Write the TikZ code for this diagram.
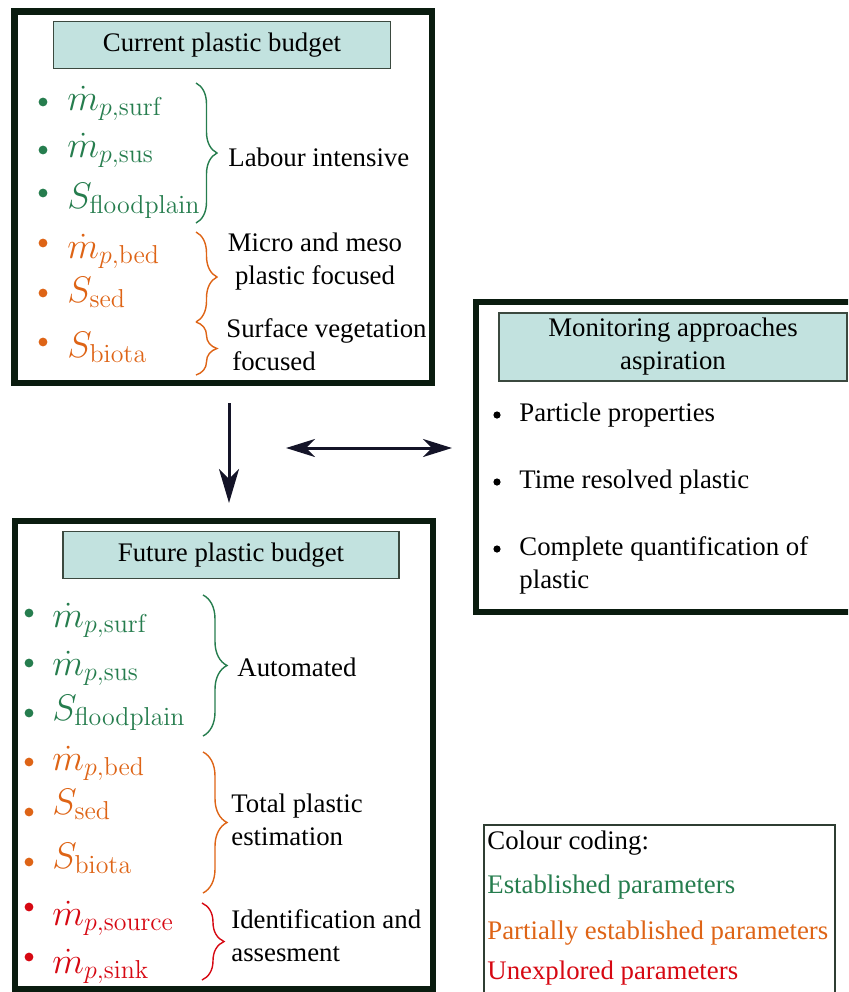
\documentclass[tikz,border=0pt]{standalone}
\usepackage{fix-cm}
\usepackage[no-math]{fontspec}
\setmainfont{Liberation Serif}
\usetikzlibrary{arrows.meta,decorations.pathreplacing}
\definecolor{framecol}{RGB}{10,28,15}
\definecolor{titlefill}{RGB}{194,226,223}
\definecolor{estab}{RGB}{38,125,78}
\definecolor{partial}{RGB}{222,100,22}
\definecolor{unexpl}{RGB}{214,8,18}
\definecolor{arrowcol}{RGB}{20,20,40}
\newcommand\txt{\fontsize{13.4}{16.5}\selectfont}
\newcommand\mth{\fontsize{18.5}{22}\selectfont}
\tikzset{
  budget/.style={draw=framecol,line width=3.4pt},
  titlebox/.style={draw=framecol!80,fill=titlefill,line width=0.6pt,font=\txt,inner sep=0pt,align=center},
  param/.style={text=#1,anchor=base west,inner sep=0pt,font=\mth},
  desc/.style={font=\txt,inner sep=0pt,anchor=west},
  curly/.style={draw=#1,line width=0.7pt,decorate},
}
\begin{document}
\begin{tikzpicture}[x=0.5pt,y=-0.5pt]
  \useasboundingbox (0,0) rectangle (848,992);
  \clip (0,0) rectangle (848,992);

  % current plastic budget
  \draw[budget] (14.5,11.5) rectangle (432,383); %外枠
  \node[titlebox,minimum width=168.5pt,minimum height=23.5pt] (ctitle) at (222,45) {Current plastic budget};
  \foreach \y/\c in {102/estab,150/estab,193/estab,243/partial,293/partial,342/partial}
    \fill[\c] (43,\y) circle (2.2pt); %黒丸
  \node[param=estab] (csurf) at (67,110) {$\dot m_{p,\mathrm{surf}}$};
  \node[param=estab] (csus) at (67,157) {$\dot m_{p,\mathrm{sus}}$};
  \node[param=estab] (cflood) at (67,208) {$S_{\mathrm{floodplain}}$};
  \node[param=partial] (cbed) at (67,258) {$\dot m_{p,\mathrm{bed}}$};
  \node[param=partial] (csed) at (67,302) {$S_{\mathrm{sed}}$};
  \node[param=partial] (cbiota) at (67,357) {$S_{\mathrm{biota}}$};
  \draw[curly=estab,decoration={brace,amplitude=10.5pt}] (196,83) -- (196,223);
  \draw[curly=partial,decoration={brace,amplitude=10.5pt}] (196,232) -- (196,322);
  \draw[curly=partial,decoration={brace,amplitude=10.5pt}] (196,322) -- (196,375);
  \node[desc] (clabour) at (228,157) {Labour intensive};
  \node[desc,anchor=center,align=center] (cmicro) at (315,262) {Micro and meso\\plastic focused};
  \node[desc,align=left] (csurface) at (226,345) {Surface vegetation\\\hspace{3pt}focused};

  % monitoring approaches
  \draw[budget] (476,302) rectangle (880,612);
  \node[titlebox,minimum width=174pt,minimum height=34pt] (mtitle) at (673,347) {Monitoring approaches\\aspiration};
  \foreach \y in {415,482,549}
    \fill[black] (497,\y) circle (1.8pt);
  \node[desc] (mprop) at (519,415) {Particle properties};
  \node[desc] (mtime) at (519,482) {Time resolved plastic};
  \node[desc,align=left] (mquant) at (519,565) {Complete quantification of\\plastic};

  % future plastic budget
  \draw[budget] (15,521) rectangle (433,989);
  \node[titlebox,minimum width=168pt,minimum height=23.5pt] (ftitle) at (231,555) {Future plastic budget};
  \foreach \y/\c in {613/estab,663/estab,713/estab,762/partial,812/partial,862/partial,907/unexpl,957/unexpl}
    \fill[\c] (29,\y) circle (2.2pt);
  \node[param=estab] (fsurf) at (52,627) {$\dot m_{p,\mathrm{surf}}$};
  \node[param=estab] (fsus) at (52,675) {$\dot m_{p,\mathrm{sus}}$};
  \node[param=estab] (fflood) at (52,720) {$S_{\mathrm{floodplain}}$};
  \node[param=partial] (fbed) at (52,770) {$\dot m_{p,\mathrm{bed}}$};
  \node[param=partial] (fsed) at (52,814) {$S_{\mathrm{sed}}$};
  \node[param=partial] (fbiota) at (52,868) {$S_{\mathrm{biota}}$};
  \node[param=unexpl] (fsource) at (52,925) {$\dot m_{p,\mathrm{source}}$};
  \node[param=unexpl] (fsink) at (52,973) {$\dot m_{p,\mathrm{sink}}$};
  \draw[curly=estab,decoration={brace,amplitude=12pt}] (203,595) -- (203,736);
  \draw[curly=partial,decoration={brace,amplitude=12pt}] (203,752) -- (203,893);
  \draw[curly=unexpl,decoration={brace,amplitude=11pt}] (202,903) -- (202,980);
  \node[desc] (fauto) at (237,667) {Automated};
  \node[desc,align=left] (ftotal) at (231,820) {Total plastic\\estimation};
  \node[desc,align=left] (fident) at (231,936) {Identification and\\assesment};

  % arrows
  \coordinate (dtop) at (229,403);
  \coordinate (dbot) at (229,503);
  \coordinate (hl) at (286,448);
  \coordinate (hr) at (452,448);
  \draw[-{Stealth[length=17pt,width=10pt,inset=5pt]},line width=1.5pt,draw=arrowcol] (dtop) -- (dbot);
  \draw[{Stealth[length=14.5pt,width=9pt,inset=4.5pt]}-{Stealth[length=14.5pt,width=9pt,inset=4.5pt]},line width=1.5pt,draw=arrowcol] (hl) -- (hr);

  % colour coding
  \draw[draw=framecol!85,line width=0.6pt] (484,825) rectangle (835,1010);
  \node[desc] (lhead) at (487,843) {Colour coding:};
  \node[desc,text=estab] (lestab) at (487,887) {Established parameters};
  \node[desc,text=partial] (lpart) at (487,933) {Partially established parameters};
  \node[desc,text=unexpl] (lunexpl) at (487,973) {Unexplored parameters};
\end{tikzpicture}
\end{document}
